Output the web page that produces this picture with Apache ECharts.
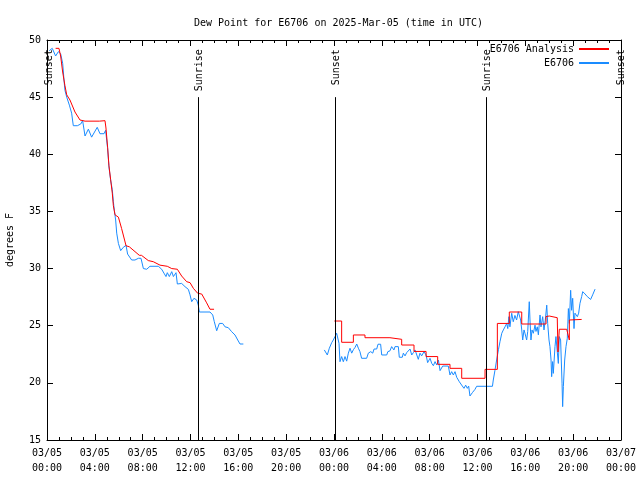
<!DOCTYPE html>
<html>
<head>
<meta charset="utf-8">
<script src="https://cdn.jsdelivr.net/npm/echarts@6/dist/echarts.min.js"></script>
<style>html,body{margin:0;padding:0;background:#fff;}#c{width:640px;height:480px;}</style>
</head>
<body>
<div id="c"></div>
<script>
// Hours since 03/05 00:00 UTC, dew point in °F
const obsDay1 = [[0.19,49.07],[0.44,49.27],[0.72,48.6],[0.95,48.98],[1.14,48.8],[1.31,47.96],[1.37,47.2],[1.42,46.5],[1.5,45.6],[1.65,45.0],[1.87,44.3],[2.06,43.6],[2.2,42.5],[2.54,42.5],[2.82,42.65],[2.98,42.94],[3.18,41.6],[3.46,42.2],[3.73,41.5],[4.2,42.36],[4.43,41.8],[4.77,41.8],[4.9,42.1],[4.99,41.25],[5.07,40.5],[5.18,38.9],[5.32,37.75],[5.46,36.9],[5.55,35.85],[5.63,35.1],[5.74,34.25],[5.83,33.1],[5.97,32.2],[6.16,31.57],[6.38,31.86],[6.61,32.03],[6.74,31.27],[6.89,31.33],[7.08,30.75],[7.36,30.75],[7.64,30.9],[7.86,30.9],[8.06,30.0],[8.34,29.94],[8.61,30.2],[9.31,30.2],[9.59,29.94],[9.78,29.6],[9.95,29.3],[10.06,29.64],[10.23,29.3],[10.43,29.73],[10.57,29.3],[10.79,29.64],[10.9,28.65],[11.26,28.7],[11.54,28.42],[11.82,28.18],[11.96,27.7],[12.1,27.1],[12.29,27.4],[12.52,27.25],[12.65,26.8],[12.74,26.2],[13.21,26.2],[13.63,26.2],[13.86,25.94],[13.99,25.35],[14.19,24.56],[14.41,25.2],[14.69,25.2],[14.89,24.9],[15.16,24.83],[15.44,24.48],[15.72,24.19],[15.95,23.75],[16.14,23.4],[16.42,23.4]];
const obsDay2 = [[23.19,22.88],[23.44,22.44],[23.61,23.03],[23.81,23.52],[23.94,23.75],[24.08,24.04],[24.22,24.34],[24.3,24.4],[24.42,23.46],[24.5,21.85],[24.64,22.3],[24.78,21.85],[24.92,22.3],[25.06,21.9],[25.2,22.6],[25.34,23.03],[25.48,22.6],[25.62,22.9],[25.76,23.1],[25.9,23.4],[26.04,23.03],[26.17,22.73],[26.31,22.15],[26.73,22.15],[26.87,22.6],[27.07,22.73],[27.24,22.6],[27.35,22.96],[27.57,22.96],[27.68,23.38],[27.9,23.38],[27.99,22.44],[28.41,22.44],[28.5,22.73],[28.68,22.8],[28.82,23.17],[29.01,22.88],[29.1,23.17],[29.38,23.17],[29.46,22.24],[29.71,22.24],[29.8,22.6],[29.94,22.36],[30.08,22.65],[30.22,22.6],[30.36,22.96],[30.5,22.44],[30.64,22.65],[30.78,22.88],[30.92,22.8],[31.05,22.06],[31.19,22.6],[31.33,22.36],[31.53,22.73],[31.7,22.44],[31.83,21.77],[32.03,22.15],[32.17,21.71],[32.31,21.5],[32.45,21.86],[32.59,21.56],[32.73,22.0],[32.87,21.07],[33.09,21.47],[33.56,21.47],[33.7,20.69],[33.84,20.98],[33.98,20.69],[34.12,20.98],[34.26,20.49],[34.48,20.1],[34.59,20.25],[34.73,19.72],[34.87,19.52],[35.01,19.8],[35.15,19.52],[35.26,19.72],[35.37,18.85],[35.57,19.14],[35.79,19.43],[35.93,19.7],[37.25,19.7],[37.32,20.25],[37.46,21.1],[37.6,22.0],[37.75,22.9],[37.88,23.6],[38.03,24.34],[38.16,24.63],[38.3,24.9],[38.44,25.2],[38.53,24.75],[38.63,25.79],[38.71,24.9],[38.86,26.09],[38.99,25.35],[39.13,25.9],[39.27,25.5],[39.41,26.23],[39.55,26.3],[39.61,25.5],[39.7,24.63],[39.78,23.75],[39.89,24.63],[39.97,24.34],[40.11,23.75],[40.2,24.5],[40.33,27.1],[40.39,25.5],[40.47,23.75],[40.56,24.63],[40.67,24.34],[40.81,25.05],[40.89,24.5],[41.0,24.9],[41.09,24.2],[41.23,25.94],[41.31,24.9],[41.45,25.79],[41.56,24.63],[41.67,25.5],[41.79,26.8],[41.87,25.2],[41.98,23.75],[42.06,23.17],[42.15,22.0],[42.2,20.54],[42.28,21.86],[42.34,20.83],[42.48,23.17],[42.56,24.05],[42.67,22.73],[42.76,21.7],[42.84,24.05],[42.95,23.75],[43.07,19.97],[43.12,17.92],[43.18,19.68],[43.29,22.0],[43.4,23.17],[43.51,23.9],[43.6,26.5],[43.68,25.2],[43.79,28.1],[43.87,26.35],[43.96,27.4],[44.07,24.75],[44.15,26.1],[44.24,26.2],[44.35,25.79],[44.46,26.1],[44.57,26.96],[44.71,27.55],[44.8,27.98],[44.99,27.78],[45.18,27.55],[45.46,27.3],[45.63,27.7],[45.83,28.2]];
const anaDay1 = [[0.72,49.27],[1.0,49.27],[1.14,48.6],[1.31,47.2],[1.5,46.0],[1.65,45.2],[1.92,44.75],[2.34,43.7],[2.76,43.0],[3.18,42.9],[4.38,42.9],[4.85,42.94],[4.93,42.3],[5.07,40.6],[5.18,39.0],[5.32,37.8],[5.46,36.6],[5.55,35.5],[5.69,34.7],[5.97,34.5],[6.24,33.5],[6.61,32.0],[6.89,31.9],[7.72,31.16],[7.9,31.16],[8.47,30.7],[8.89,30.6],[9.45,30.3],[10.06,30.2],[10.43,30.0],[10.9,29.94],[11.26,29.35],[11.68,28.85],[11.96,28.77],[12.24,28.27],[12.6,27.84],[12.94,27.77],[13.35,27.0],[13.63,26.44],[13.97,26.44]];
const anaDay2 = [[24.03,25.41],[24.64,25.41],[24.64,23.55],[25.62,23.55],[25.62,24.19],[26.59,24.19],[26.59,23.95],[28.68,23.95],[28.68,23.81],[29.66,23.81],[29.66,23.31],[30.69,23.31],[30.69,22.75],[31.7,22.75],[31.7,22.3],[32.67,22.3],[32.67,21.62],[33.7,21.62],[33.7,21.27],[34.68,21.27],[34.68,20.4],[36.63,20.4],[36.63,21.18],[37.66,21.18],[37.66,25.2],[38.66,25.2],[38.66,26.2],[39.7,26.2],[39.7,25.15],[41.73,25.15],[41.73,25.8],[42.0,25.85],[42.67,25.7],[42.73,22.7],[42.84,24.69],[43.46,24.69],[43.68,23.75],[43.68,25.5],[44.71,25.55]];
const sunTimes = [0.05, 12.63, 24.08, 36.71, 48.0];
const sunLabels = ['Sunset', 'Sunrise', 'Sunset', 'Sunrise', 'Sunset'];
const xTickLabels = ['03/05\n00:00','03/05\n04:00','03/05\n08:00','03/05\n12:00','03/05\n16:00','03/05\n20:00','03/06\n00:00','03/06\n04:00','03/06\n08:00','03/06\n12:00','03/06\n16:00','03/06\n20:00','03/07\n00:00'];
const seriesNames = ['E6706 Analysis', 'E6706'];

const FONT = 'DejaVu Sans Mono';
const withGap = (a, b) => a.concat([[ (a[a.length-1][0] + b[0][0]) / 2, null ]], b);

const chart = echarts.init(document.getElementById('c'), null, {renderer: 'canvas'});
const axisCommon = {
  type: 'value', min: 0, max: 48, interval: 4,
  axisLine: {show: true, onZero: false, lineStyle: {color: '#000', width: 1}},
  axisTick: {show: true, inside: true, length: 6, lineStyle: {color: '#000'}},
  minorTick: {show: true, splitNumber: 4, length: 3, lineStyle: {color: '#000'}},
  splitLine: {show: false}
};
const yCommon = {
  type: 'value', min: 15, max: 50, interval: 5,
  axisLine: {show: true, onZero: false, lineStyle: {color: '#000', width: 1}},
  axisTick: {show: true, inside: true, length: 6, lineStyle: {color: '#000'}},
  splitLine: {show: false}
};
chart.setOption({
  animation: false,
  backgroundColor: '#fff',
  title: {
    text: 'Dew Point for E6706 on 2025-Mar-05 (time in UTC)',
    left: 189, top: 13,
    textStyle: {fontFamily: FONT, fontSize: 10, fontWeight: 'normal', color: '#000'}
  },
  legend: {
    data: seriesNames,
    orient: 'vertical', right: 26, top: 38, align: 'right',
    icon: 'rect', itemWidth: 30, itemHeight: 2, itemGap: 2,
    textStyle: {fontFamily: FONT, fontSize: 10, color: '#000', lineHeight: 12}
  },
  grid: {left: 47, right: 19, top: 40, bottom: 40, containLabel: false, outerBoundsMode: 'none'},
  xAxis: [
    Object.assign({}, axisCommon, {
      position: 'bottom',
      axisLabel: {
        margin: 6, color: '#000', fontFamily: FONT, fontSize: 10, lineHeight: 15,
        formatter: (v) => xTickLabels[Math.round(v / 4)]
      }
    }),
    Object.assign({}, axisCommon, {position: 'top', axisLabel: {show: false}})
  ],
  yAxis: [
    Object.assign({}, yCommon, {
      position: 'left',
      name: 'degrees F', nameLocation: 'middle', nameGap: 32, nameRotate: 90,
      nameTextStyle: {fontFamily: FONT, fontSize: 10, color: '#000'},
      axisLabel: {margin: 6, color: '#000', fontFamily: FONT, fontSize: 10}
    }),
    Object.assign({}, yCommon, {position: 'right', axisLabel: {show: false}})
  ],
  series: [
    {
      name: seriesNames[0], type: 'line', symbol: 'none', connectNulls: false,
      color: '#ff0000', lineStyle: {width: 1, color: '#ff0000'},
      data: withGap(anaDay1, anaDay2), z: 3
    },
    {
      name: seriesNames[1], type: 'line', symbol: 'none', connectNulls: false,
      color: '#1a8cff', lineStyle: {width: 1, color: '#1a8cff'},
      data: withGap(obsDay1, obsDay2), z: 2,
      markLine: {
        silent: true, symbol: 'none', animation: false,
        lineStyle: {color: '#000', width: 1, type: 'solid'},
        label: {show: false},
        data: sunTimes.map(t => [{coord: [t, 15]}, {coord: [t, 45.0]}])
      },
      markPoint: {
        silent: true, symbol: 'circle', symbolSize: 0, animation: false,
        label: {
          show: true, position: 'inside', rotate: 90, align: 'right', verticalAlign: 'middle',
          fontFamily: FONT, fontSize: 10, color: '#000',
          formatter: (p) => p.name
        },
        data: sunTimes.map((t, i) => ({name: sunLabels[i], coord: [Math.min(t + 0.12, 48), 49.2]}))
      }
    }
  ]
});
</script>
</body>
</html>
